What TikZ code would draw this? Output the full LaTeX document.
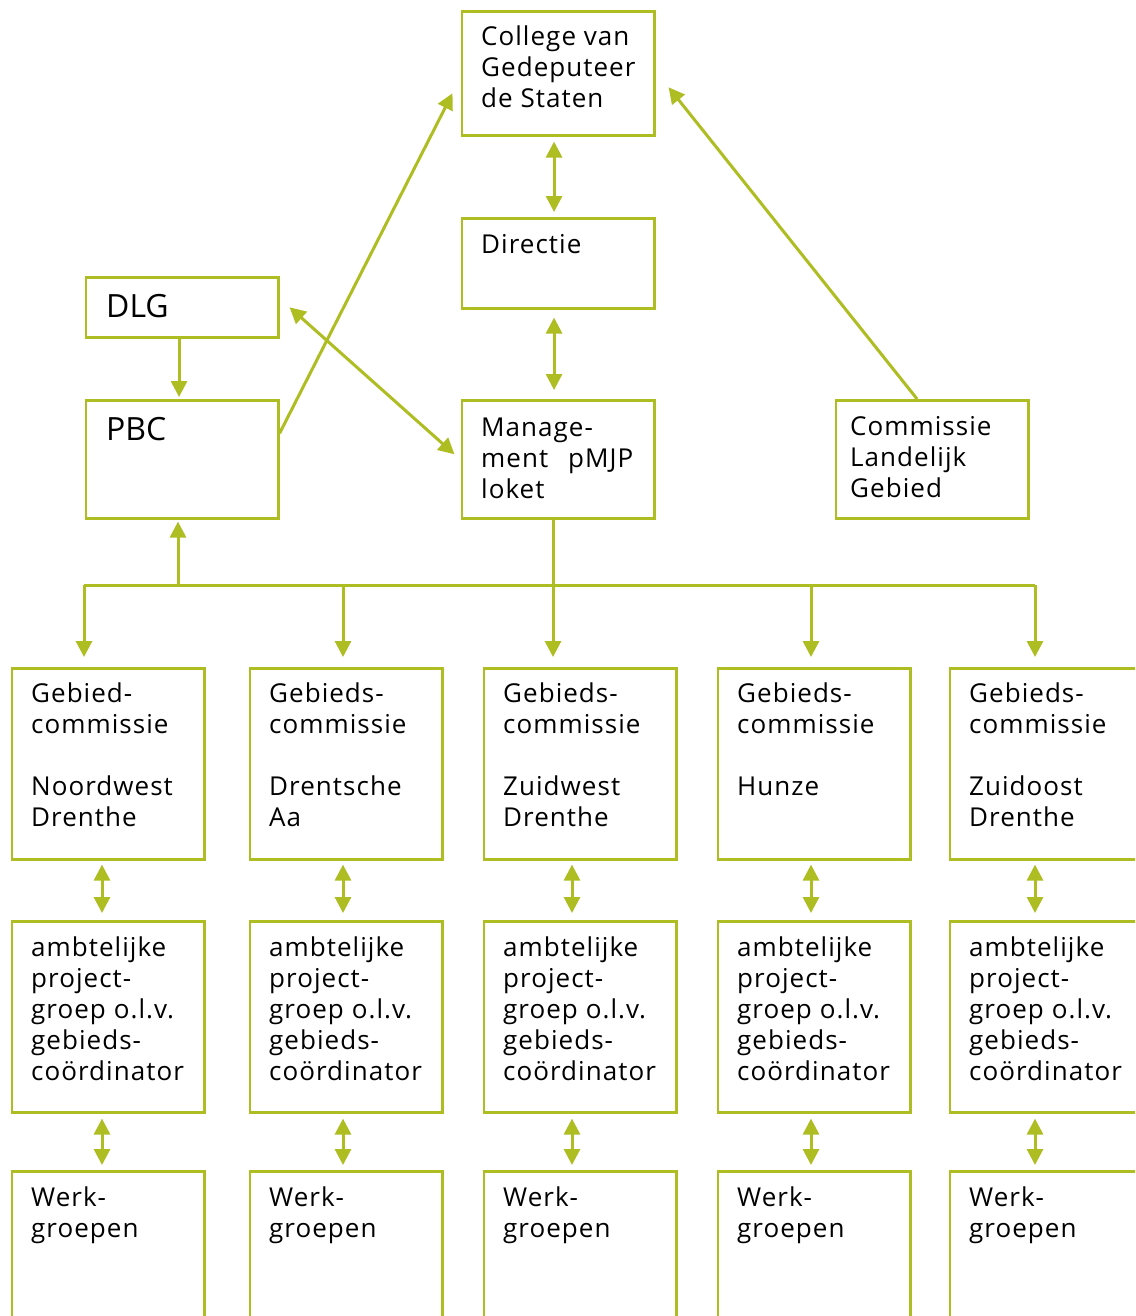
\documentclass[tikz,border=0pt]{standalone}
\usepackage{fontspec}
\setmainfont{Open Sans}[LetterSpace=4]
\newfontfamily\bigfont{Open Sans}
\usetikzlibrary{arrows.meta}
\definecolor{lime}{HTML}{AEBD21}
\begin{document}
\begin{tikzpicture}[x=1pt,y=-1pt,
  box/.style={draw=lime, line width=2.6pt, rectangle, inner sep=0pt, anchor=north west, minimum width=192.5pt},
  txt/.style={anchor=base west, inner sep=0pt, font=\fontsize{26}{31}\selectfont},
  bigtxt/.style={anchor=base west, inner sep=0pt, font=\bigfont\fontsize{32}{38}\selectfont},
  conn/.style={draw=lime, line width=3pt},
  arr/.style={conn, -{Triangle[length=16pt,width=16pt]}},
  dbl/.style={conn, {Triangle[length=16pt,width=16pt]}-{Triangle[length=16pt,width=16pt]}}
]
\useasboundingbox (0,0) rectangle (1135,1316);
\clip (0,0) rectangle (1135,1316);
\fill[white] (0,0) rectangle (1135,1316);

% top boxes
\node[box, minimum height=124pt] (college) at (460.5,10) {};
\node[box, minimum height=90pt] (directie) at (460.5,217) {};
\node[box, minimum height=60pt] (dlg) at (84.5,276) {};
\node[box, minimum height=118pt] (pbc) at (84.5,399) {};
\node[box, minimum height=118pt] (mgmt) at (460.5,399) {};
\node[box, minimum height=118pt] (clg) at (834.5,399) {};

\node[txt] (t-college) at (481,46) {\parbox[t]{200pt}{College van\\Gedeputeer\\de Staten}};
\node[txt] (t-directie) at (481,253) {\parbox[t]{200pt}{Directie}};
\node[bigtxt] (t-dlg) at (106,317) {DLG};
\node[bigtxt] (t-pbc) at (106,440) {PBC};
\node[txt] (t-mgmt) at (481,436) {\parbox[t]{200pt}{Manage-\\ment\hspace{20pt}pMJP\\loket}};
\node[txt] (t-clg) at (850,435) {\parbox[t]{200pt}{Commissie\\Landelijk\\Gebied}};

% rows
\foreach \i/\x in {1/10.5,2/248.5,3/482.5,4/716.5,5/948.5}{
  \node[box, minimum height=191pt] (g\i) at (\x,667) {};
  \node[box, minimum height=191pt] (a\i) at (\x,920) {};
  \node[box, minimum height=200pt] (w\i) at (\x,1170) {};
}
\node[txt] (tg1) at (31,702) {\parbox[t]{200pt}{Gebied-\\commissie\\[31pt]Noordwest\\Drenthe}};
\node[txt] (tg2) at (269,702) {\parbox[t]{200pt}{Gebieds-\\commissie\\[31pt]Drentsche\\Aa}};
\node[txt] (tg3) at (503,702) {\parbox[t]{200pt}{Gebieds-\\commissie\\[31pt]Zuidwest\\Drenthe}};
\node[txt] (tg4) at (737,702) {\parbox[t]{200pt}{Gebieds-\\commissie\\[31pt]Hunze}};
\node[txt] (tg5) at (969,702) {\parbox[t]{200pt}{Gebieds-\\commissie\\[31pt]Zuidoost\\Drenthe}};
\foreach \i/\x in {1/31,2/269,3/503,4/737,5/969}{
  \node[txt] (ta\i) at (\x,956) {\parbox[t]{200pt}{ambtelijke\\project-\\groep\hspace{8pt}o.l.v.\\gebieds-\\coördinator}};
  \node[txt] (tw\i) at (\x,1206) {\parbox[t]{200pt}{Werk-\\groepen}};
}

% helper coordinates
\coordinate (b1) at (84,585);
\coordinate (bp) at (178,585);
\coordinate (b2) at (343,585);
\coordinate (b3) at (553,585);
\coordinate (b4) at (811,585);
\coordinate (b5) at (1035,585);
\coordinate (c1) at (102,0);
\coordinate (c2) at (343,0);
\coordinate (c3) at (572,0);
\coordinate (c4) at (811,0);
\coordinate (c5) at (1035,0);

% top connectors
\draw[dbl] ([xshift=-4pt,yshift=-5pt]college.south) -- ([xshift=-4pt,yshift=5pt]directie.north);
\draw[dbl] ([xshift=-4pt,yshift=-8pt]directie.south) -- ([xshift=-4pt,yshift=9pt]mgmt.north);
\draw[arr] ([xshift=-3pt]dlg.south) -- ([xshift=-3pt,yshift=2pt]pbc.north);
\draw[arr] ([yshift=26pt]pbc.east) -- ([xshift=-8pt,yshift=-20pt]college.west);
\draw[dbl] ([xshift=10pt]dlg.east) -- ([xshift=-6pt,yshift=5pt]mgmt.west);
\draw[arr] ([xshift=-15pt]clg.north) -- ([xshift=13pt,yshift=-14pt]college.east);

% bus
\draw[conn] (b1) -- (b5);
\draw[arr, shorten >=2pt] (bp) -- (bp |- pbc.south);
\draw[arr, shorten >=10pt] (b1) -- (b1 |- g1.north);
\draw[arr, shorten >=10pt] (b2) -- (b2 |- g2.north);
\draw[arr, shorten >=10pt] (b3 |- mgmt.south) -- (b3 |- g3.north);
\draw[arr, shorten >=10pt] (b4) -- (b4 |- g4.north);
\draw[arr, shorten >=10pt] (b5) -- (b5 |- g5.north);

% row connectors
\foreach \i in {1,...,5}{
  \draw[dbl, shorten <=4pt, shorten >=7pt] (c\i |- g\i.south) -- (c\i |- a\i.north);
  \draw[dbl, shorten <=5pt, shorten >=5pt] (c\i |- a\i.south) -- (c\i |- w\i.north);
}
\end{tikzpicture}
\end{document}
